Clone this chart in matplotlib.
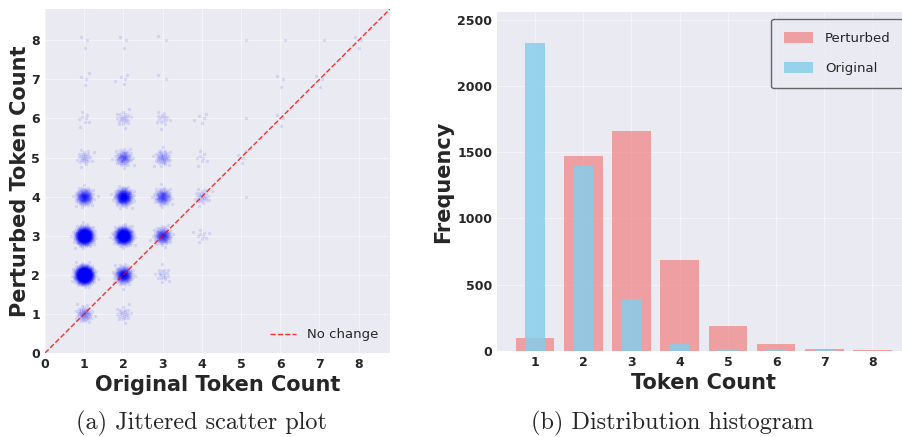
import numpy as np
import matplotlib
matplotlib.use("Agg")
import matplotlib.pyplot as plt

# token count categories
token_counts = [1, 2, 3, 4, 5, 6, 7, 8]

# histogram frequencies
perturbed_freq = [96, 1471, 1660, 688, 189, 53, 15, 8]
original_freq = [2325, 1393, 395, 53, 7, 7, 4, 3]

# joint counts for the scatter: rows = original count, cols = perturbed count
joint_counts = [
    [70, 1180, 830, 200, 30, 8, 4, 3],
    [25, 270, 650, 320, 95, 25, 5, 3],
    [0, 20, 170, 130, 55, 16, 2, 2],
    [0, 0, 10, 30, 8, 5, 0, 0],
    [0, 0, 0, 1, 4, 1, 0, 1],
    [0, 0, 0, 0, 0, 3, 3, 1],
    [0, 0, 0, 0, 0, 0, 3, 1],
    [0, 0, 0, 0, 0, 0, 0, 3],
]

captions = ['(a) Jittered scatter plot', '(b) Distribution histogram']


def spread(cx, cy, n, sigma=0.1):
    """Deterministic 'jitter': sunflower layout with gaussian radial profile."""
    i = np.arange(n)
    r = sigma * np.sqrt(-2 * np.log(1 - (i + 0.5) / n))
    th = i * np.pi * (3 - np.sqrt(5))
    return cx + r * np.cos(th), cy + r * np.sin(th)


plt.style.use('seaborn-v0_8-darkgrid')
plt.rcParams['font.family'] = ['DejaVu Sans']

fig = plt.figure(figsize=(9.02, 4.37), dpi=100)

# Panel (a): jittered scatter
ax1 = fig.add_axes([0.0499, 0.1922, 0.3825, 0.7872])
xs, ys = [], []
for i, orig in enumerate(token_counts):
    for j, pert in enumerate(token_counts):
        n = joint_counts[i][j]
        if n == 0:
            continue
        x, y = spread(orig, pert, n)
        xs.append(x)
        ys.append(y)
xs = np.concatenate(xs)
ys = np.concatenate(ys)
ax1.scatter(xs, ys, s=6, color='blue', alpha=0.1, linewidths=0)

lim = max(token_counts) * 1.1
ax1.plot([0, lim], [0, lim], 'r--', alpha=0.8, linewidth=1, label='No change')
ax1.set_xlim(0, lim)
ax1.set_ylim(0, lim)
ax1.set_xticks(range(0, 9))
ax1.set_yticks(range(0, 9))
ax1.set_xlabel('Original Token Count', fontsize=15, fontweight='bold', labelpad=3)
ax1.set_ylabel('Perturbed Token Count', fontsize=15, fontweight='bold', labelpad=1)
ax1.legend(loc='lower right', frameon=False, fontsize=9.5)
ax1.grid(True, alpha=0.5)

# Panel (b): histogram
ax2 = fig.add_axes([0.551, 0.1968, 0.4585, 0.7757])
ax2.bar(token_counts, perturbed_freq, width=0.8, color='lightcoral', alpha=0.7, label='Perturbed')
ax2.bar(token_counts, original_freq, width=0.4, color='skyblue', alpha=0.85, label='Original')
ax2.set_ylim(0, max(original_freq) * 1.1)
ax2.set_xticks(token_counts)
ax2.set_xlabel('Token Count', fontsize=15, fontweight='bold', labelpad=3)
ax2.set_ylabel('Frequency', fontsize=15, fontweight='bold', labelpad=3)
leg = ax2.legend(loc='upper right', fontsize=9.5, frameon=True, handlelength=2.2,
                 handleheight=0.85, handletextpad=0.9, borderpad=1.0, labelspacing=1.3)
leg.get_frame().set_edgecolor('#444444')
leg.get_frame().set_linewidth(1.0)
ax2.grid(True, alpha=0.5)

for ax in (ax1, ax2):
    for lab in ax.get_xticklabels() + ax.get_yticklabels():
        lab.set_fontweight('bold')
        lab.set_fontsize(9)

fig.text(0.223, 0.03, captions[0], family='cmr10', fontsize=17.5, ha='center', va='center')
fig.text(0.745, 0.03, captions[1], family='cmr10', fontsize=17.5, ha='center', va='center')

fig.savefig('out.png', dpi=100)
